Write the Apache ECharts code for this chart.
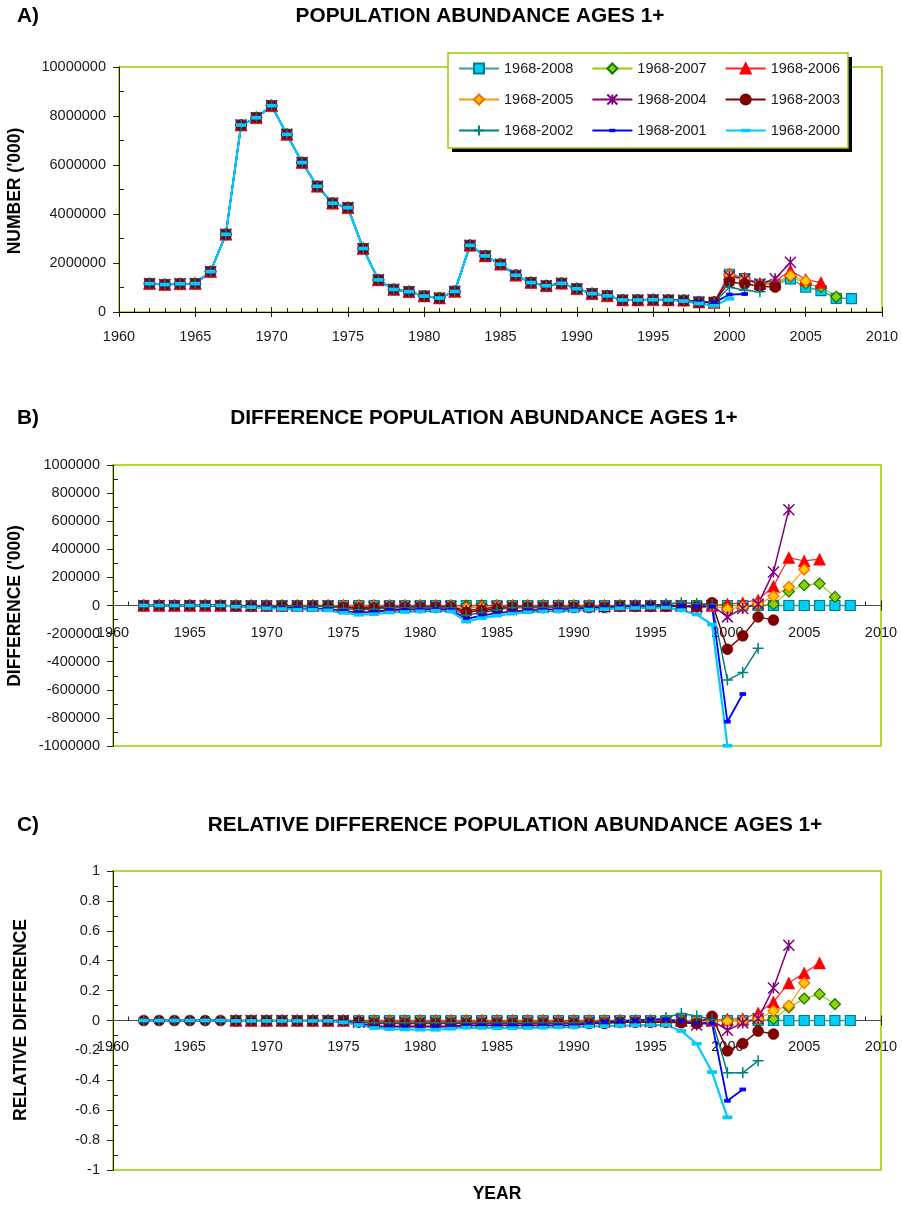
<!DOCTYPE html>
<html>
<head>
<meta charset="utf-8">
<title>Population abundance ages 1+ : retrospective runs</title>
<script src="https://cdn.jsdelivr.net/npm/echarts@6/dist/echarts.min.js"></script>
<style>
  html, body { margin: 0; padding: 0; background: #ffffff; }
  #chart { width: 902px; height: 1207px; }
</style>
</head>
<body>
<div id="chart"></div>
<script>
// ---------------------------------------------------------------------------
// Data
// ---------------------------------------------------------------------------
const years = [
  1962, 1963, 1964, 1965, 1966, 1967, 1968, 1969, 1970, 1971,
  1972, 1973, 1974, 1975, 1976, 1977, 1978, 1979, 1980, 1981,
  1982, 1983, 1984, 1985, 1986, 1987, 1988, 1989, 1990, 1991,
  1992, 1993, 1994, 1995, 1996, 1997, 1998, 1999, 2000, 2001,
  2002, 2003, 2004, 2005, 2006, 2007, 2008
];

const runNames = [
  '1968-2008', '1968-2007', '1968-2006',
  '1968-2005', '1968-2004', '1968-2003',
  '1968-2002', '1968-2001', '1968-2000'
];

const xTickLabels = ['1960', '1965', '1970', '1975', '1980', '1985', '1990', '1995', '2000', '2005', '2010'];

// A) abundance ('000), common to all runs 1962-1996
const abundanceHistory = [
  1160000, 1120000, 1150000, 1160000, 1650000, 3170000,
  7630000, 7930000, 8420000, 7250000, 6100000, 5130000, 4440000,
  4260000, 2590000, 1310000, 920000, 830000, 650000, 570000, 840000,
  2720000, 2290000, 1950000, 1500000, 1200000, 1070000, 1170000, 950000, 750000, 660000,
  490000, 490000, 500000, 490000
];
// A) abundance per run, 1997 to the run's last year
const abundanceTail2008 = [480000, 410000, 390000, 1540000, 1365000, 1130000, 1120000, 1350000, 1010000, 870000, 560000, 550000];
const abundanceTail2007 = [480000, 410000, 390000, 1540000, 1365000, 1130000, 1130000, 1450000, 1154000, 1026000, 621000];
const abundanceTail2006 = [480000, 410000, 390000, 1550000, 1385000, 1170000, 1257000, 1691000, 1327000, 1200000];
const abundanceTail2005 = [478000, 408000, 388000, 1515000, 1355000, 1140000, 1186000, 1482000, 1266000];
const abundanceTail2004 = [480000, 398000, 390000, 1459000, 1344000, 1140000, 1359000, 2032000];
const abundanceTail2003 = [472000, 402000, 410000, 1229000, 1149000, 1049000, 1016000];
const abundanceTail2002 = [502000, 425000, 398000, 1009000, 889000, 826000];
const abundanceTail2001 = [475000, 402000, 382000, 713000, 735000];
const abundanceTail2000 = [447000, 346000, 255000, 542000];

// B) difference from the 1968-2008 run ('000), from 1962
const diff2008 = [
  0, 0, 0, 0, 0, 0, 0, 0, 0, 0,
  0, 0, 0, 0, 0, 0, 0, 0, 0, 0,
  0, 0, 0, 0, 0, 0, 0, 0, 0, 0,
  0, 0, 0, 0, 0, 0, 0, 0, 0, 0,
  0, 0, 0, 0, 0, 0, 0
];
const diff2007 = [
  0, 0, 0, 0, 0, 0, 0, 0, 0, 0,
  0, 0, 0, 0, 0, 0, 0, 0, 0, 0,
  0, 0, 0, 0, 0, 0, 0, 0, 0, 0,
  0, 0, 0, 0, 0, 0, 0, 0, 0, 0,
  0, 10000, 100000, 144000, 156000, 61000
];
const diff2006 = [
  0, 0, 0, 0, 0, 0, 0, 0, 0, 0,
  0, 0, 0, 0, 0, 0, 0, 0, 0, 0,
  0, -5000, 0, 0, 0, 0, 0, 0, 0, 0,
  0, 0, 0, 0, 0, 0, 0, 0, 10000, 20000,
  40000, 137000, 341000, 317000, 330000
];
const diff2005 = [
  0, 0, 0, 0, 0, 0, -2000, -2000, -2000, -2000,
  -2000, -2000, -2000, -5000, -5000, -5000, -5000, -5000, -5000, -5000,
  -5000, -18000, -12000, -6000, -6000, -6000, -6000, -6000, -6000, -6000,
  -6000, -2000, -2000, -2000, -2000, -2000, -2000, -2000, -25000, -10000,
  10000, 66000, 132000, 256000
];
const diff2004 = [
  0, 0, 0, 0, 0, 0, -3000, -3000, -3000, -3000,
  -3000, -3000, -3000, -12000, -12000, -12000, -8000, -8000, -8000, -8000,
  -8000, -35000, -25000, -10000, -10000, -10000, -10000, -10000, -10000, -10000,
  -10000, -4000, -4000, -4000, -4000, 0, -12000, 0, -81000, -21000,
  10000, 239000, 682000
];
const diff2003 = [
  0, 0, 0, 0, 0, 0, -5000, -5000, -5000, -5000,
  -5000, -5000, -5000, -15000, -22000, -20000, -14000, -14000, -14000, -14000,
  -14000, -48000, -35000, -25000, -15000, -15000, -15000, -15000, -15000, -15000,
  -15000, -6000, -6000, -6000, -6000, -8000, -8000, 20000, -311000, -216000,
  -81000, -104000
];
const diff2002 = [
  0, 0, 0, 0, 0, 0, -6000, -6000, -6000, -6000,
  -6000, -6000, -6000, -22000, -30000, -27000, -16000, -16000, -16000, -16000,
  -16000, -70000, -50000, -32000, -15000, -15000, -15000, -15000, -15000, -15000,
  -15000, 0, 0, 0, 10000, 22000, 15000, 8000, -531000, -476000,
  -304000
];
const diff2001 = [
  0, 0, 0, 0, 0, 0, -6000, -8000, -12000, -15000,
  -18000, -20000, -25000, -38000, -50000, -45000, -32000, -30000, -28000, -26000,
  -30000, -95000, -72000, -55000, -42000, -35000, -30000, -28000, -25000, -18000,
  -12000, -8000, -4000, 0, 2000, -5000, -8000, -8000, -827000, -630000
];
const diff2000 = [
  0, 0, 0, 0, 0, 0, -8000, -12000, -20000, -25000,
  -30000, -30000, -35000, -52000, -66000, -62000, -50000, -46000, -42000, -38000,
  -42000, -115000, -90000, -72000, -58000, -48000, -42000, -40000, -36000, -30000,
  -26000, -20000, -18000, -15000, -15000, -33000, -64000, -135000, -998000
];

// C) relative difference from the 1968-2008 run, from 1962
const rel2008 = [
  null, null, null, null, null, null, 0, 0, 0, 0,
  0, 0, 0, 0, 0, 0, 0, 0, 0, 0,
  0, 0, 0, 0, 0, 0, 0, 0, 0, 0,
  0, 0, 0, 0, 0, 0, 0, 0, 0, 0,
  0, 0, 0, 0, 0, 0, 0
];
const rel2007 = [
  null, null, null, null, null, null, 0, 0, 0, 0,
  0, 0, 0, 0, 0, 0, 0, 0, 0, 0,
  0, 0, 0, 0, 0, 0, 0, 0, 0, 0,
  0, 0, 0, 0, 0, 0, 0, 0, 0, 0,
  0, 0.01, 0.087, 0.147, 0.176, 0.109
];
const rel2006 = [
  null, null, null, null, null, null, 0, 0, 0, 0,
  0, 0, 0, 0, 0, 0, 0, 0, 0, 0,
  0, 0, 0, 0, 0, 0, 0, 0, 0, 0,
  0, 0, 0, 0, 0, 0, 0, 0, 0.01, 0.012,
  0.05, 0.124, 0.251, 0.318, 0.385
];
const rel2005 = [
  null, null, null, null, null, null, 0, 0, 0, 0,
  0, 0, 0, 0, -0.006, -0.006, -0.006, -0.006, -0.006, -0.006,
  -0.006, -0.006, -0.006, -0.006, -0.006, -0.006, -0.006, -0.006, -0.006, -0.006,
  -0.006, -0.003, -0.003, -0.003, -0.003, -0.003, -0.003, -0.003, -0.005, -0.005,
  0.01, 0.064, 0.1, 0.251
];
const rel2004 = [
  null, null, null, null, null, null, 0, 0, 0, 0,
  0, 0, 0, 0, -0.012, -0.012, -0.012, -0.012, -0.012, -0.012,
  -0.012, -0.012, -0.012, -0.012, -0.012, -0.012, -0.012, -0.012, -0.012, -0.012,
  -0.012, -0.008, -0.008, -0.008, -0.008, 0, -0.03, 0, -0.065, -0.016,
  0.013, 0.218, 0.503
];
const rel2003 = [
  0, 0, 0, 0, 0, 0, -0.002, -0.002, -0.002, -0.002,
  -0.002, -0.002, -0.002, -0.002, -0.01, -0.02, -0.02, -0.02, -0.02, -0.02,
  -0.02, -0.02, -0.02, -0.02, -0.02, -0.02, -0.02, -0.02, -0.02, -0.02,
  -0.02, -0.012, -0.012, -0.012, -0.012, -0.015, -0.02, 0.029, -0.203, -0.154,
  -0.071, -0.091
];
const rel2002 = [
  0, 0, 0, 0, 0, 0, -0.002, -0.002, -0.002, -0.002,
  -0.002, -0.002, -0.002, -0.002, -0.01, -0.015, -0.015, -0.015, -0.015, -0.015,
  -0.015, -0.015, -0.015, -0.015, -0.015, -0.015, -0.015, -0.015, -0.015, -0.015,
  -0.015, 0, 0, 0, 0.02, 0.047, 0.03, 0.007, -0.35, -0.35,
  -0.27
];
const rel2001 = [
  0, 0, 0, 0, 0, 0, -0.002, -0.002, -0.002, -0.002,
  -0.002, -0.002, -0.002, -0.008, -0.02, -0.04, -0.04, -0.04, -0.04, -0.04,
  -0.04, -0.032, -0.032, -0.032, -0.032, -0.032, -0.032, -0.032, -0.032, -0.02,
  -0.01, -0.005, 0, 0.005, 0.008, -0.005, -0.02, -0.02, -0.537, -0.461
];
const rel2000 = [
  0, 0, 0, 0, 0, 0, -0.003, -0.003, -0.003, -0.003,
  -0.003, -0.003, -0.003, -0.012, -0.03, -0.05, -0.058, -0.06, -0.062, -0.062,
  -0.055, -0.048, -0.05, -0.052, -0.052, -0.05, -0.048, -0.045, -0.045, -0.04,
  -0.038, -0.035, -0.032, -0.03, -0.03, -0.07, -0.156, -0.345, -0.648
];

const abundanceRuns = [
  abundanceHistory.concat(abundanceTail2008),
  abundanceHistory.concat(abundanceTail2007),
  abundanceHistory.concat(abundanceTail2006),
  abundanceHistory.concat(abundanceTail2005),
  abundanceHistory.concat(abundanceTail2004),
  abundanceHistory.concat(abundanceTail2003),
  abundanceHistory.concat(abundanceTail2002),
  abundanceHistory.concat(abundanceTail2001),
  abundanceHistory.concat(abundanceTail2000)
];
const differenceRuns = [diff2008, diff2007, diff2006, diff2005, diff2004, diff2003, diff2002, diff2001, diff2000];
const relativeRuns = [rel2008, rel2007, rel2006, rel2005, rel2004, rel2003, rel2002, rel2001, rel2000];

// ---------------------------------------------------------------------------
// Styles
// ---------------------------------------------------------------------------
const FONT = '"Liberation Sans", Arial, Helvetica, sans-serif';
const TEXT = '#1a1a1a';
const FRAME = '#99cc00';

// marker shapes; the leading moves keep a square bounding box so the
// dash markers stay flat in the legend as well as on the lines
const SYM_STAR = 'path://M0,0L10,10M10,0L0,10M5,0L5,10';
const SYM_PLUS = 'path://M5,0L5,10M0,5L10,5';
const SYM_DASH_SHORT = 'path://M0,0M10,10M2,3.3L8,3.3L8,6.7L2,6.7Z';
const SYM_DASH_LONG = 'path://M0,0M10,10M0.5,3.3L9.5,3.3L9.5,6.7L0.5,6.7Z';

const runStyles = [
  { line: '#3d9c9c', width: 1.4, symbol: 'rect',         size: 10, fill: '#00ccff', border: '#008080', bw: 1.2 },
  { line: '#99cc00', width: 1.2, symbol: 'diamond',      size: 11, fill: '#99cc00', border: '#008000', bw: 1.2 },
  { line: '#ff2020', width: 1.2, symbol: 'triangle',     size: 12, fill: '#ff0000', border: '#ff0000', bw: 0.5 },
  { line: '#ff9900', width: 1.2, symbol: 'diamond',      size: 11, fill: '#ffcc00', border: '#ff6600', bw: 1.2 },
  { line: '#800080', width: 1.5, symbol: SYM_STAR,       size: 11, fill: '#800080', border: '#800080', bw: 1.5 },
  { line: '#800000', width: 1.5, symbol: 'circle',       size: 11, fill: '#800000', border: '#800000', bw: 0.5 },
  { line: '#008080', width: 1.5, symbol: SYM_PLUS,       size: 11, fill: '#008080', border: '#008080', bw: 1.5 },
  { line: '#0000ff', width: 1.8, symbol: SYM_DASH_SHORT, size: 11, fill: '#0000ff', border: '#0000ff', bw: 0 },
  { line: '#00ccff', width: 2.2, symbol: SYM_DASH_LONG,  size: 11, fill: '#00ccff', border: '#00ccff', bw: 0 }
];

function pairs(values) {
  return years.slice(0, values.length).map((yr, i) => [yr, values[i]]);
}

function makeSeries(valuesList, gridIndex) {
  return valuesList.map((values, k) => {
    const s = runStyles[k];
    return {
      type: 'line',
      name: runNames[k],
      xAxisIndex: gridIndex,
      yAxisIndex: gridIndex,
      data: pairs(values),
      showSymbol: true,
      symbol: s.symbol,
      symbolSize: s.size,
      connectNulls: false,
      lineStyle: { color: s.line, width: s.width },
      itemStyle: { color: s.fill, borderColor: s.border, borderWidth: s.bw },
      emphasis: { disabled: true },
      z: 2
    };
  });
}

// Main x axis: line, labels and outward major ticks.
function xAxisMain(gridIndex, lineColor, margin, offset) {
  return {
    type: 'value', gridIndex: gridIndex, position: 'bottom', offset: offset,
    min: 1960, max: 2010, interval: 5,
    axisLine: { show: true, onZero: false, lineStyle: { color: lineColor, width: 1 } },
    axisTick: { show: true, length: 5, lineStyle: { color: '#222', width: 1 } },
    minorTick: { show: false },
    splitLine: { show: false },
    axisLabel: {
      margin: margin, fontSize: 14.5, fontFamily: FONT, color: TEXT,
      formatter: v => xTickLabels[Math.round((v - 1960) / 5)] || String(v)
    }
  };
}
// Companion x axis: inward major and yearly minor ticks.
function xAxisInner(gridIndex, offset) {
  return {
    type: 'value', gridIndex: gridIndex, position: 'bottom', offset: offset,
    min: 1960, max: 2010, interval: 5,
    axisLine: { show: false, onZero: false },
    axisTick: { show: true, inside: true, length: 5, lineStyle: { color: '#222', width: 1 } },
    minorTick: { show: true, splitNumber: 5, length: 4, lineStyle: { color: '#222', width: 1 } },
    splitLine: { show: false },
    axisLabel: { show: false }
  };
}
function yAxisMain(gridIndex, min, max, interval, fmt) {
  return {
    type: 'value', gridIndex: gridIndex, position: 'left',
    min: min, max: max, interval: interval,
    axisLine: { show: true, onZero: false, lineStyle: { color: '#222', width: 1 } },
    axisTick: { show: true, length: 6, lineStyle: { color: '#222', width: 1 } },
    minorTick: { show: false },
    splitLine: { show: false },
    axisLabel: { margin: 13, fontSize: 14.5, fontFamily: FONT, color: TEXT, formatter: fmt }
  };
}
function yAxisInner(gridIndex, min, max, interval) {
  return {
    type: 'value', gridIndex: gridIndex, position: 'left',
    min: min, max: max, interval: interval,
    axisLine: { show: false, onZero: false },
    axisTick: { show: false, inside: true },
    minorTick: { show: true, splitNumber: 2, length: 5, lineStyle: { color: '#222', width: 1 } },
    splitLine: { show: false },
    axisLabel: { show: false }
  };
}

const intLabel = v => String(Math.round(v));
const relLabel = v => String(parseFloat(v.toFixed(1)));

function gridBox(left, top, width, height) {
  return {
    left: left, top: top, width: width, height: height,
    show: true, borderColor: FRAME, borderWidth: 1.5,
    backgroundColor: 'transparent',
    containLabel: false, outerBoundsMode: 'none'
  };
}

function label(text, x, y, size, align) {
  return {
    type: 'text', x: x, y: y, z: 20, silent: true,
    style: {
      text: text, fill: '#000', align: align || 'center', verticalAlign: 'middle',
      font: 'bold ' + size + 'px ' + FONT
    }
  };
}

function vLabel(text, x, y, size) {
  const el = label(text, x, y, size, 'center');
  el.rotation = Math.PI / 2;
  return el;
}

function legendRow(names, top) {
  return {
    data: names,
    left: 458,
    top: top,
    orient: 'horizontal',
    itemWidth: 40,
    itemHeight: 12.5,
    itemGap: 18,
    padding: 0,
    selectedMode: false,
    z: 10,
    textStyle: { fontSize: 14.5, fontFamily: FONT, color: TEXT }
  };
}

// ---------------------------------------------------------------------------
// Chart
// ---------------------------------------------------------------------------
const chart = echarts.init(document.getElementById('chart'), null, { renderer: 'canvas' });

chart.setOption({
  animation: false,
  backgroundColor: '#ffffff',
  grid: [
    gridBox(119, 67, 763, 245),
    gridBox(113, 465, 768, 281),
    gridBox(113, 871, 768, 299)
  ],
  xAxis: [
    xAxisMain(0, '#000000', 17, 0),
    xAxisMain(1, '#4d4d4d', 20, -140.5),
    xAxisMain(2, '#4d4d4d', 19, -149.5),
    xAxisInner(0, 0),
    xAxisInner(1, -140.5),
    xAxisInner(2, -149.5)
  ],
  yAxis: [
    yAxisMain(0, 0, 10000000, 2000000, intLabel),
    yAxisMain(1, -1000000, 1000000, 200000, intLabel),
    yAxisMain(2, -1, 1, 0.2, relLabel),
    yAxisInner(0, 0, 10000000, 2000000),
    yAxisInner(1, -1000000, 1000000, 200000),
    yAxisInner(2, -1, 1, 0.2)
  ],
  legend: [
    legendRow(runNames.slice(0, 3), 61),
    legendRow(runNames.slice(3, 6), 92),
    legendRow(runNames.slice(6, 9), 123)
  ],
  graphic: [
    {
      type: 'rect', z: 5, silent: true,
      shape: { x: 452, y: 57, width: 400, height: 95 },
      style: { fill: '#000000' }
    },
    {
      type: 'rect', z: 6, silent: true,
      shape: { x: 448, y: 53, width: 400, height: 95 },
      style: { fill: '#ffffff', stroke: FRAME, lineWidth: 1.5 }
    },
    label('A)', 17, 16, 20.8, 'left'),
    label('POPULATION ABUNDANCE AGES 1+', 480, 16, 20.8),
    vLabel("NUMBER ('000)", 15, 191, 17.5),

    label('B)', 17, 418, 20.8, 'left'),
    label('DIFFERENCE POPULATION ABUNDANCE AGES 1+', 484, 418, 20.8),
    vLabel("DIFFERENCE ('000)", 15, 606, 17.5),

    label('C)', 17, 825, 20.8, 'left'),
    label('RELATIVE DIFFERENCE POPULATION ABUNDANCE AGES 1+', 515, 825, 20.8),
    vLabel('RELATIVE DIFFERENCE', 21, 1020, 17.5),
    label('YEAR', 497, 1194, 17.5)
  ],
  series: [].concat(
    makeSeries(abundanceRuns, 0),
    makeSeries(differenceRuns, 1),
    makeSeries(relativeRuns, 2)
  )
});
</script>
</body>
</html>
